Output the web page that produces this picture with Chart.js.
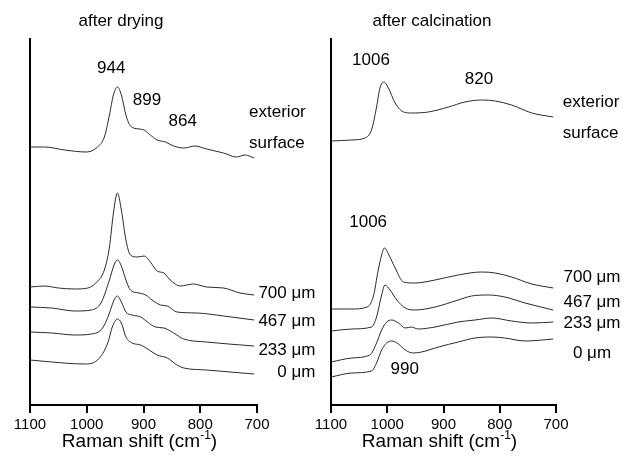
<!DOCTYPE html>
<html>
<head>
<meta charset="utf-8">
<script src="https://cdn.jsdelivr.net/npm/chart.js@4.4.0/dist/chart.umd.min.js"></script>
<style>
  body { margin: 0; background: #fff; }
  canvas { position: absolute; top: 0; }
</style>
</head>
<body>
<canvas id="dry" width="322" height="459" style="left:0px"></canvas>
<canvas id="calc" width="322" height="459" style="left:300px"></canvas>
<script>
// Raman shift ticks (cm-1)
const xTicks = [1100, 1000, 900, 800, 700];

// after drying: wavenumbers and stacked intensities (a.u., offset)
const dryExtX  = [1100, 1074, 1039, 1001, 981, 969, 960, 953, 946, 939, 931, 923, 908, 899, 888, 876, 861, 847, 829, 809, 789, 759, 736, 721, 705];
const dryExtY  = [258, 258, 255, 253, 258, 268, 290, 310, 318, 310, 290, 279, 276, 275, 270, 265, 263, 259, 257, 259, 256, 252, 248, 250, 247];
const dry700X  = [1100, 1074, 1050, 1021, 998, 984, 969, 960, 953, 946, 939, 931, 923, 911, 899, 888, 876, 864, 853, 835, 812, 789, 759, 730, 705];
const dry700Y  = [118, 119, 117, 116, 117, 122, 135, 158, 192, 212, 195, 165, 150, 148, 149, 143, 134, 132, 125, 119, 121, 118, 117, 112, 110];
const dry467X  = [1100, 1062, 1021, 992, 975, 960, 952, 946, 939, 931, 923, 908, 896, 885, 870, 858, 841, 806, 759, 705];
const dry467Y  = [98, 97, 94, 95, 102, 125, 140, 145, 139, 125, 115, 112, 110, 105, 100, 99, 93, 92, 89, 85];
const dry233X  = [1100, 1062, 1021, 992, 972, 960, 952, 946, 939, 931, 920, 905, 893, 879, 864, 847, 829, 789, 705];
const dry233Y  = [73, 72, 70, 71, 77, 92, 105, 109, 103, 93, 90, 88, 83, 78, 77, 72, 66, 63, 59];
const dry0X    = [1100, 1062, 1004, 981, 963, 955, 946, 939, 931, 920, 905, 890, 876, 858, 841, 829, 789, 705];
const dry0Y    = [45, 43, 41, 45, 62, 78, 86, 82, 68, 62, 60, 55, 50, 47, 40, 37, 35, 31];

// after calcination
const calExtX  = [1100, 1063, 1040, 1028, 1019, 1013, 1006, 998, 986, 971, 957, 927, 891, 862, 832, 808, 779, 743, 705];
const calExtY  = [264, 265, 267, 275, 298, 317, 323, 317, 302, 293, 292, 293, 298, 303, 305, 304, 300, 292, 288];
const cal700X  = [1100, 1063, 1036, 1025, 1016, 1010, 1005, 997, 986, 971, 951, 915, 874, 832, 808, 779, 743, 705];
const cal700Y  = [96, 96, 98, 108, 135, 150, 157, 150, 137, 123, 122, 125, 130, 133, 132, 128, 121, 117];
const cal467X  = [1100, 1063, 1028, 1019, 1010, 1004, 995, 983, 968, 951, 915, 874, 850, 820, 791, 755, 705];
const cal467Y  = [74, 76, 78, 88, 110, 120, 115, 105, 97, 95, 98, 105, 109, 110, 108, 102, 95];
const cal233X  = [1100, 1063, 1031, 1019, 1010, 1001, 992, 980, 968, 957, 945, 915, 874, 844, 814, 779, 743, 705];
const cal233Y  = [43, 47, 50, 62, 75, 83, 85, 82, 77, 78, 76, 78, 83, 85, 87, 84, 82, 83];
const cal0X    = [1100, 1063, 1028, 1019, 1010, 1001, 992, 980, 968, 954, 939, 909, 874, 844, 814, 791, 755, 705];
const cal0Y    = [28, 32, 34, 42, 55, 62, 64, 61, 55, 52, 53, 58, 63, 67, 68, 67, 64, 66];

Chart.defaults.font.family = '"Liberation Sans", Arial, sans-serif';
Chart.defaults.color = '#000';

function pts(xs, ys) {
  return xs.map((x, i) => ({ x: x, y: ys[i] }));
}

function line(xs, ys) {
  return {
    data: pts(xs, ys),
    borderColor: '#2a2a2a',
    borderWidth: 1,
    pointRadius: 0,
    cubicInterpolationMode: 'monotone',
    fill: false
  };
}

// draws tick marks, panel title, peak labels, depth labels and axis title
const notesPlugin = {
  id: 'notes',
  afterDraw(chart, args, opts) {
    const ctx = chart.ctx;
    const xs = chart.scales.x, ys = chart.scales.y;
    const area = chart.chartArea;
    ctx.save();

    // tick marks under the x axis
    ctx.strokeStyle = '#000';
    ctx.lineWidth = 2;
    ctx.beginPath();
    xTicks.forEach(v => {
      const px = Math.round(xs.getPixelForValue(v));
      ctx.moveTo(px, area.bottom);
      ctx.lineTo(px, area.bottom + 8);
    });
    ctx.stroke();

    ctx.fillStyle = '#000';
    ctx.textBaseline = 'middle';

    ctx.font = '17px "Liberation Sans", Arial, sans-serif';
    ctx.textAlign = 'center';
    ctx.fillText(opts.title, opts.titleX, 21);

    opts.items.forEach(it => {
      ctx.textAlign = it.align || 'center';
      ctx.fillText(it.text, xs.getPixelForValue(it.x), ys.getPixelForValue(it.y));
    });

    // x axis title with superscript
    const big = '19px "Liberation Sans", Arial, sans-serif';
    const small = '12px "Liberation Sans", Arial, sans-serif';
    const a = 'Raman shift (cm', b = '-1', c = ')';
    ctx.font = big; const wa = ctx.measureText(a).width, wc = ctx.measureText(c).width;
    ctx.font = small; const wb = ctx.measureText(b).width;
    let x0 = (area.left + area.right) / 2 - 4 - (wa + wb + wc) / 2;
    const y0 = 442;
    ctx.textAlign = 'left';
    ctx.font = big; ctx.fillText(a, x0, y0);
    ctx.font = small; ctx.fillText(b, x0 + wa, y0 - 6);
    ctx.font = big; ctx.fillText(c, x0 + wa + wb, y0);
    ctx.restore();
  }
};

function makeChart(id, series, leftW, rightPad, title, titleX, items) {
  new Chart(document.getElementById(id), {
    type: 'line',
    data: { datasets: series.map(s => line(s[0], s[1])) },
    options: {
      responsive: false,
      animation: false,
      layout: { padding: { top: 39, right: rightPad, bottom: 0, left: 0 } },
      plugins: {
        legend: { display: false },
        tooltip: { enabled: false },
        notes: { title: title, titleX: titleX, items: items }
      },
      scales: {
        x: {
          type: 'linear',
          reverse: true,
          min: 700,
          max: 1100,
          afterBuildTicks: s => { s.ticks = xTicks.map(v => ({ value: v })); },
          afterFit: s => { s.height = 54; },
          ticks: {
            autoSkip: false,
            maxRotation: 0,
            padding: 3,
            font: { size: 15 },
            callback: v => String(v)
          },
          grid: {
            display: true,
            drawOnChartArea: false,
            drawTicks: true,
            tickLength: 8,
            color: '#000',
            lineWidth: 2
          },
          border: { display: true, color: '#000', width: 2 }
        },
        y: {
          min: 0,
          max: 366,
          afterFit: s => { s.width = leftW; },
          ticks: { display: false },
          grid: { display: false },
          border: { display: true, color: '#000', width: 2 }
        }
      }
    },
    plugins: [notesPlugin]
  });
}

makeChart('dry',
  [[dryExtX, dryExtY], [dry700X, dry700Y], [dry467X, dry467Y], [dry233X, dry233Y], [dry0X, dry0Y]],
  30, 65, 'after drying', 121,
  [
    { text: '944', x: 957, y: 337 },
    { text: '899', x: 894, y: 305 },
    { text: '864', x: 831, y: 284 },
    { text: 'exterior', x: 714, y: 293, align: 'left' },
    { text: 'surface', x: 714, y: 262, align: 'left' },
    { text: '700 \u03bcm', x: 597, y: 112, align: 'right' },
    { text: '467 \u03bcm', x: 597, y: 84, align: 'right' },
    { text: '233 \u03bcm', x: 597, y: 55, align: 'right' },
    { text: '0 \u03bcm', x: 597, y: 33, align: 'right' }
  ]);

makeChart('calc',
  [[calExtX, calExtY], [cal700X, cal700Y], [cal467X, cal467Y], [cal233X, cal233Y], [cal0X, cal0Y]],
  31, 66, 'after calcination', 132,
  [
    { text: '1006', x: 1029, y: 345 },
    { text: '820', x: 837, y: 326 },
    { text: 'exterior', x: 688, y: 303, align: 'left' },
    { text: 'surface', x: 688, y: 272, align: 'left' },
    { text: '1006', x: 1034, y: 183 },
    { text: '990', x: 969, y: 36 },
    { text: '700 \u03bcm', x: 636, y: 128 },
    { text: '467 \u03bcm', x: 636, y: 103 },
    { text: '233 \u03bcm', x: 636, y: 82 },
    { text: '0 \u03bcm', x: 636, y: 52 }
  ]);
</script>
</body>
</html>
